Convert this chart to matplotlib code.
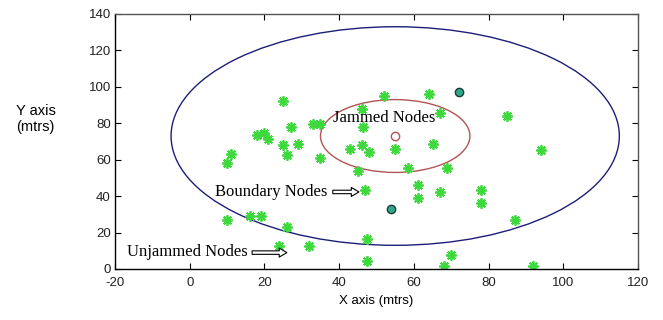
import matplotlib.pyplot as plt
from matplotlib.patches import Ellipse

plt.rcParams['axes.unicode_minus'] = False

# ======================
# Node positions
# ======================
unjammed_x = [25, 52, 46, 64, 67, 85, 27, 33, 35, 46.5, 18, 20, 21, 25, 29, 26,
              11, 10, 35, 43, 46, 48, 55, 65, 94, 58.5, 69, 45, 47, 61, 61, 67,
              78, 78, 87, 10, 16, 19, 26, 24, 32, 47.5, 47.5, 70, 68, 92]
unjammed_y = [92, 95, 88, 96, 85.5, 84, 78, 79.5, 79.5, 78, 73.5, 74.5, 71.5, 68, 68.5, 62.5,
              63, 58, 61, 66, 68, 64.5, 66, 68.5, 65.5, 55.5, 55.5, 54, 43.5, 46, 39, 42,
              43.5, 36.5, 27, 27, 29, 29, 23, 12.5, 12.5, 16.5, 4.5, 7.5, 1.5, 1.5]

boundary_x = [72, 54]
boundary_y = [97, 33]

jammer_x = [55]
jammer_y = [73]

# jamming ranges (radius, data units)
outer_radius = 60
inner_radius = 20

# ======================
# Plot
# ======================
fig = plt.figure(figsize=(6.63, 3.2), dpi=100)
ax = fig.add_axes([0.1735, 0.1594, 0.7888, 0.7969])

ax.add_patch(Ellipse((jammer_x[0], jammer_y[0]), 2 * outer_radius, 2 * outer_radius,
                     fill=False, edgecolor='#1e1e78', lw=1.0))
ax.add_patch(Ellipse((jammer_x[0], jammer_y[0]), 2 * inner_radius, 2 * inner_radius,
                     fill=False, edgecolor='#b05555', lw=1.0))

ax.plot(unjammed_x, unjammed_y, linestyle='none', marker=(8, 2, 0), markersize=7.5,
        mew=1.3, color='#3cd83c')
ax.plot(boundary_x, boundary_y, linestyle='none', marker='o', markersize=6,
        mfc='#2fa88a', mec='#1c3c3c', mew=1.0)
ax.plot(jammer_x, jammer_y, linestyle='none', marker='o', markersize=6,
        mfc='white', mec='#b05555', mew=1.0)

serif = 'Liberation Serif'
ax.text(38.4, 82.8, 'Jammed Nodes', family=serif, fontsize=12, va='center')
ax.text(6.8, 42.3, 'Boundary Nodes', family=serif, fontsize=12, va='center')
ax.text(-16.9, 9.5, 'Unjammed Nodes', family=serif, fontsize=12, va='center')

arrow = dict(arrowstyle='simple,head_length=0.55,head_width=0.65,tail_width=0.25',
             fc='white', ec='black', lw=0.8, shrinkA=0, shrinkB=0)
ax.annotate('', xy=(45.3, 42.3), xytext=(38.3, 42.3), arrowprops=arrow)
ax.annotate('', xy=(26, 9.0), xytext=(16.7, 9.0), arrowprops=arrow)

ax.set_xlim(-20, 120)
ax.set_ylim(0, 140)
ax.set_xticks(range(-20, 121, 20))
ax.set_yticks(range(0, 141, 20))
ax.tick_params(direction='in', length=4, top=True, right=True, labelsize=9.5,
               labelcolor='#222222')
ax.tick_params(axis='x', pad=6)
ax.tick_params(axis='y', pad=3)
for s in ax.spines.values():
    s.set_linewidth(1.0)
ax.spines['top'].set_color('#555555')
ax.spines['right'].set_color('#555555')

for t in ax.get_xticklabels() + ax.get_yticklabels():
    t.set_family('Liberation Sans')

ax.set_xlabel('X axis (mtrs)', family='Liberation Sans', fontsize=9.5, labelpad=4)
fig.text(0.024, 0.628, 'Y axis\n(mtrs)', family='Liberation Sans', fontsize=10.5,
         ha='left', va='center', multialignment='left', linespacing=1.25)

fig.savefig('out.png', dpi=100)
